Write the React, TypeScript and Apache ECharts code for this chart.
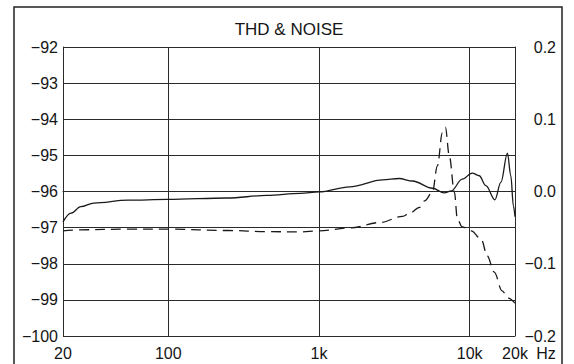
import React, { useEffect, useRef } from "react";
import * as echarts from "echarts";

const titleText = "THD & NOISE";
const unitText = "Hz";

// Solid curve (right axis)
const solidFreq = [20, 22.6, 26.3, 32, 54, 99, 246, 450, 750, 1000, 1600, 2650, 3400, 4180, 5660, 6790, 7560, 8930, 10400, 11580, 12820, 14710, 16110, 17820, 18760, 19520, 20000];
const solidVal = [-0.042, -0.03, -0.021, -0.016, -0.012, -0.011, -0.009, -0.0055, -0.0025, -0.0005, 0.0065, 0.016, 0.018, 0.0145, 0.0045, -0.002, 0.001, 0.017, 0.0255, 0.0218, 0.008, -0.0115, 0.0125, 0.053, 0.0218, -0.02, -0.035];

// Dashed curve (left axis, dB)
const dashFreq = [20, 26, 54, 100, 250, 450, 750, 1000, 1600, 2530, 3590, 4000, 4650, 5020, 5660, 6110, 6590, 6900, 7330, 7920, 8290, 8930, 10250, 11940, 13080, 14560, 16430, 18000, 20000];
const dashVal = [-97.09, -97.06, -97.04, -97.04, -97.08, -97.11, -97.12, -97.09, -97.01, -96.86, -96.69, -96.6, -96.44, -96.26, -96.02, -95.29, -94.37, -94.22, -95.01, -96.02, -96.76, -96.98, -97.09, -97.32, -97.78, -98.23, -98.75, -98.95, -99.09];

const FONT = '"Liberation Sans", Arial, sans-serif';
const INK = "#151515";

function minus(s: string) {
  return s.replace("-", "\u2212");
}

export default function App() {
  const ref = useRef<HTMLDivElement>(null);
  useEffect(() => {
    if (!ref.current) return;
    const chart = echarts.init(ref.current, undefined, { renderer: "svg" });
    chart.setOption({
      animation: false,
      backgroundColor: "#ffffff",
      title: {
        text: titleText,
        left: 289,
        textAlign: "center",
        top: 21,
        padding: 0,
        textStyle: { fontFamily: FONT, fontSize: 17, fontWeight: "normal", color: INK },
      },
      grid: { left: 63, right: 59, top: 47, bottom: 28, containLabel: false },
      xAxis: {
        type: "log",
        logBase: 10,
        min: 20,
        max: 20000,
        axisLine: { show: true, lineStyle: { color: "#2a2a2a", width: 1 } },
        axisTick: { show: false },
        splitLine: { show: true, lineStyle: { color: "#2a2a2a", width: 1 } },
        minorSplitLine: { show: false },
        axisLabel: {
          margin: 9,
          fontFamily: FONT,
          fontSize: 16,
          color: INK,
          showMinLabel: true,
          showMaxLabel: true,
          formatter: (v: number) => {
            const r = Math.round(v);
            return r >= 1000 ? r / 1000 + "k" : String(r);
          },
        },
      },
      yAxis: [
        {
          type: "value",
          min: -100,
          max: -92,
          interval: 1,
          axisLine: { show: true, lineStyle: { color: "#2a2a2a", width: 1 } },
          axisTick: { show: false },
          splitLine: { show: true, lineStyle: { color: "#2a2a2a", width: 1 } },
          axisLabel: {
            margin: 5,
            fontFamily: FONT,
            fontSize: 16,
            color: INK,
            formatter: (v: number) => minus(String(v)),
          },
        },
        {
          type: "value",
          min: -0.2,
          max: 0.2,
          interval: 0.1,
          position: "right",
          axisLine: { show: true, lineStyle: { color: "#2a2a2a", width: 1 } },
          axisTick: { show: false },
          splitLine: { show: false },
          axisLabel: {
            margin: 41,
            align: "right",
            fontFamily: FONT,
            fontSize: 16,
            color: INK,
            formatter: (v: number) => minus((Math.round(v * 10) / 10).toFixed(1)),
          },
        },
      ],
      graphic: [
        {
          type: "rect",
          shape: { x: 14, y: 7, width: 548, height: 400 },
          style: { fill: "none", stroke: "#222", lineWidth: 1.5 },
          silent: true,
        },
        {
          type: "text",
          x: 546,
          y: 353,
          style: {
            text: unitText,
            fontFamily: FONT,
            fontSize: 16,
            fill: INK,
            textAlign: "center",
            textVerticalAlign: "middle",
          },
        },
      ],
      series: [
        {
          name: "dashed",
          type: "line",
          yAxisIndex: 0,
          showSymbol: false,
          smooth: 0.35,
          smoothMonotone: "x",
          lineStyle: { color: "#1a1a1a", width: 1.3, type: [10, 6] },
          data: dashFreq.map((f, i) => [f, dashVal[i]]),
        },
        {
          name: "solid",
          type: "line",
          yAxisIndex: 1,
          showSymbol: false,
          smooth: 0.35,
          smoothMonotone: "x",
          lineStyle: { color: "#1a1a1a", width: 1.3 },
          data: solidFreq.map((f, i) => [f, solidVal[i]]),
        },
      ],
    });
    return () => chart.dispose();
  }, []);
  return (
    <div
      ref={ref}
      style={{ position: "fixed", left: 0, top: 0, width: 574, height: 364, background: "#fff" }}
    />
  );
}
